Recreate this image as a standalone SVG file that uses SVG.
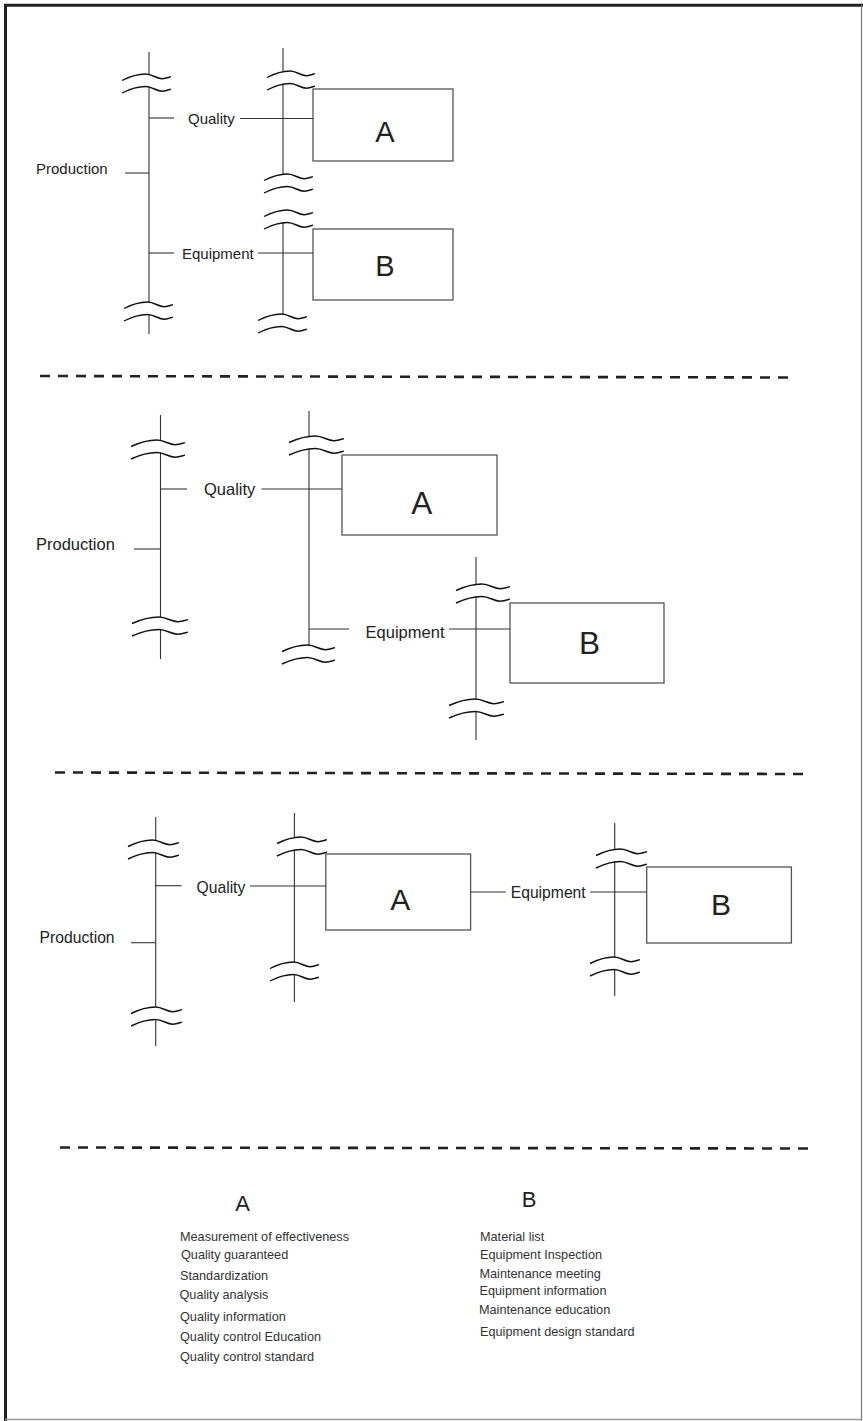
<svg xmlns="http://www.w3.org/2000/svg" xmlns:xlink="http://www.w3.org/1999/xlink" width="863" height="1421" viewBox="0 0 863 1421">
<style>
.ln{stroke:#333;stroke-width:1.1;fill:none}
.wv{fill:none;stroke:#111;stroke-width:1.4}
.bx{fill:#fff;stroke:#555;stroke-width:1.3}
.dash{stroke:#222;stroke-width:2.6;stroke-dasharray:10 8;fill:none}
.t{font-family:'Liberation Sans',Arial,Helvetica,sans-serif;fill:#222}
.s1{font-size:15px}
.s2{font-size:16.5px}
.s3{font-size:15.7px}
.big{text-anchor:middle}
.lg{font-size:12.7px;fill:#333}
</style>
<defs>
<g id="brk">
<path class="wv" vector-effect="non-scaling-stroke" d="M0,6.5 C9,2 16,0 24,0 C31,0 35,4.8 41,4.7 C45.5,4.6 48,3 50,2.6"/>
<path class="wv" vector-effect="non-scaling-stroke" d="M0,19 C9,14.5 16,12.5 24,12.5 C31,12.5 35,17.3 41,17.2 C45.5,17.1 48,15.5 50,15.1"/>
</g>
</defs>
<rect width="863" height="1421" fill="#fff"/>
<g id="frame">
<line x1="4" y1="5.3" x2="863" y2="5.3" stroke="#222" stroke-width="3"/>
<line x1="5.5" y1="4" x2="5.5" y2="1421" stroke="#222" stroke-width="3"/>
<line x1="861.5" y1="5" x2="861.5" y2="1421" stroke="#777" stroke-width="1.2"/>
<line x1="5" y1="1419.5" x2="862" y2="1419.5" stroke="#999" stroke-width="1.5"/>
</g>
<g id="separators">
<line class="dash" x1="40" y1="376" x2="790" y2="377.5"/>
<line class="dash" x1="55" y1="772.5" x2="803" y2="774"/>
<line class="dash" x1="60" y1="1147.5" x2="809" y2="1148.5"/>
</g>

<!-- Section 1 -->
<g id="s1-production">
<path class="ln" d="M149,52V74 M149,86.5V302 M149,314.5V334"/>
<use xlink:href="#brk" transform="translate(122,74) scale(0.98,1)"/>
<use xlink:href="#brk" transform="translate(124,302) scale(0.98,1)"/>
<text class="t s1" x="36" y="174">Production</text>
</g>
<g id="s1-quality">
<path class="ln" d="M283,48V71 M283,83.5V174 M283,222.5V314"/>
<use xlink:href="#brk" transform="translate(267,71) scale(0.96,1)"/>
<use xlink:href="#brk" transform="translate(264,174) scale(0.98,1)"/>
<use xlink:href="#brk" transform="translate(264,210) scale(0.98,1)"/>
<use xlink:href="#brk" transform="translate(258,314) scale(0.98,1)"/>
<text class="t s1" x="188" y="124">Quality</text>
<text class="t s1" x="182" y="259">Equipment</text>
</g>
<g id="s1-A">
<rect class="bx" x="313" y="89" width="140" height="72"/>
<text class="t big" x="385" y="141.7" font-size="29">A</text>
</g>
<g id="s1-B">
<rect class="bx" x="313" y="229" width="140" height="71"/>
<text class="t big" x="385" y="276" font-size="29">B</text>
</g>

<!-- Section 2 -->
<g id="s2-production">
<path class="ln" d="M160.5,415V440 M160.5,452.5V617 M160.5,629.5V659"/>
<use xlink:href="#brk" transform="translate(131,440) scale(1.08,1)"/>
<use xlink:href="#brk" transform="translate(132,617) scale(1.12,1)"/>
<text class="t s2" x="36" y="550">Production</text>
</g>
<g id="s2-quality">
<path class="ln" d="M309,411V436 M309,448.5V645"/>
<use xlink:href="#brk" transform="translate(289,436) scale(1.1,1)"/>
<use xlink:href="#brk" transform="translate(282,645) scale(1.06,1)"/>
<text class="t s2" x="204" y="495">Quality</text>
</g>
<g id="s2-equipment">
<path class="ln" d="M476,557V584 M476,596.5V699 M476,711.5V740"/>
<use xlink:href="#brk" transform="translate(456,584) scale(1.08,1)"/>
<use xlink:href="#brk" transform="translate(449,699) scale(1.1,1)"/>
<text class="t s2" x="365.6" y="638">Equipment</text>
</g>
<g id="s2-A">
<rect class="bx" x="342" y="455" width="155" height="80"/>
<text class="t big" x="421.7" y="514" font-size="31.5">A</text>
</g>
<g id="s2-B">
<rect class="bx" x="510" y="603" width="154" height="80"/>
<text class="t big" x="589.5" y="654" font-size="31.5">B</text>
</g>

<!-- Section 3 -->
<g id="s3-production">
<path class="ln" d="M155.7,817V840 M155.7,852.5V1007 M155.7,1019.5V1046"/>
<use xlink:href="#brk" transform="translate(128,840) scale(1.02,1)"/>
<use xlink:href="#brk" transform="translate(131,1007) scale(1.02,1)"/>
<text class="t s3" x="39.6" y="942.7">Production</text>
</g>
<g id="s3-quality">
<path class="ln" d="M294.4,813V837 M294.4,849.5V962 M294.4,974.5V1002"/>
<use xlink:href="#brk" transform="translate(277,837) scale(1,1)"/>
<use xlink:href="#brk" transform="translate(270,962) scale(0.98,1)"/>
<text class="t s3" x="196.5" y="893">Quality</text>
</g>
<g id="s3-equipment">
<path class="ln" d="M614.7,823V849 M614.7,861.5V957 M614.7,969.5V996"/>
<use xlink:href="#brk" transform="translate(596,849) scale(1.02,1)"/>
<use xlink:href="#brk" transform="translate(590,957) scale(1,1)"/>
<text class="t s3" x="510.7" y="898">Equipment</text>
</g>
<g id="s3-A">
<rect class="bx" x="325.8" y="854" width="144.8" height="76"/>
<text class="t big" x="400.3" y="910" font-size="30">A</text>
</g>
<g id="s3-B">
<rect class="bx" x="646.7" y="867" width="144.7" height="76"/>
<text class="t big" x="721" y="915" font-size="30">B</text>
</g>

<g id="connectors">
<!-- section 1 -->
<line class="ln" x1="125" y1="173" x2="149" y2="173"/>
<line class="ln" x1="149" y1="118" x2="174" y2="118"/>
<line class="ln" x1="240" y1="118.5" x2="313" y2="118.5"/>
<line class="ln" x1="149" y1="253" x2="174" y2="253"/>
<line class="ln" x1="258" y1="253" x2="313" y2="253"/>
<!-- section 2 -->
<line class="ln" x1="134" y1="549" x2="160.5" y2="549"/>
<line class="ln" x1="160.5" y1="489" x2="187" y2="489"/>
<line class="ln" x1="261.5" y1="489" x2="342" y2="489"/>
<line class="ln" x1="309" y1="629" x2="349" y2="629"/>
<line class="ln" x1="449" y1="629" x2="510" y2="629"/>
<!-- section 3 -->
<line class="ln" x1="131" y1="942.7" x2="155.7" y2="942.7"/>
<line class="ln" x1="155.7" y1="885.7" x2="181.6" y2="885.7"/>
<line class="ln" x1="250" y1="886" x2="325.8" y2="886"/>
<line class="ln" x1="470.6" y1="892" x2="506" y2="892"/>
<line class="ln" x1="590" y1="892" x2="646.7" y2="892"/>
</g>

<g id="legend-A">
<text class="t big" x="242.5" y="1211" font-size="22">A</text>
<text class="t lg" x="180" y="1240.7">Measurement of effectiveness</text>
<text class="t lg" x="181" y="1259">Quality guaranteed</text>
<text class="t lg" x="180" y="1280">Standardization</text>
<text class="t lg" x="179.5" y="1299">Quality analysis</text>
<text class="t lg" x="180" y="1320.7">Quality information</text>
<text class="t lg" x="180" y="1340.7">Quality control Education</text>
<text class="t lg" x="180" y="1360.7">Quality control standard</text>
</g>
<g id="legend-B">
<text class="t big" x="529" y="1207" font-size="22">B</text>
<text class="t lg" x="480" y="1240.7">Material list</text>
<text class="t lg" x="480" y="1259">Equipment Inspection</text>
<text class="t lg" x="479.5" y="1277.7">Maintenance meeting</text>
<text class="t lg" x="479.5" y="1295">Equipment information</text>
<text class="t lg" x="479" y="1314">Maintenance education</text>
<text class="t lg" x="480" y="1335.7">Equipment design standard</text>
</g>
</svg>
